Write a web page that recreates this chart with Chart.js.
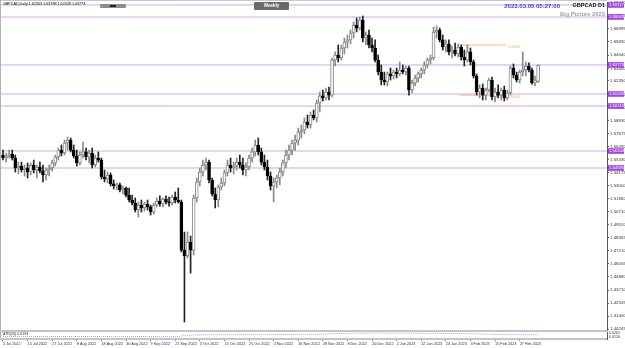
<!DOCTYPE html>
<html>
<head>
<meta charset="utf-8">
<script src="https://cdn.jsdelivr.net/npm/chart.js@4.4.0/dist/chart.umd.min.js"></script>
<style>
  body { margin: 0; background: #fff; }
  #wrap { position: relative; width: 625px; height: 348px; overflow: hidden; font-family: "Liberation Sans", sans-serif; }
  canvas { position: absolute; left: 0; }
  .txt { position: absolute; white-space: nowrap; line-height: 1; }
  .bar { position: absolute; }
</style>
</head>
<body>
<div id="wrap">
  <canvas id="priceChart" width="625" height="331" style="top:0"></canvas>
  <canvas id="atrChart" width="625" height="17" style="top:331px"></canvas>

  <div class="bar" style="left:0;top:0;width:607px;height:1px;background:#c8c8c8"></div>
  <div class="bar" style="left:0;top:0;width:1px;height:339px;background:#b0b0b0"></div>
  <div class="bar" style="left:0;top:330px;width:607px;height:2px;background:#c4c4c4"></div>
  <div class="bar" style="left:0;top:338px;width:607px;height:2px;background:#c4c4c4"></div>

  <div class="txt" style="left:3px;top:3px;font-size:3.7px;color:#000">GBPCAD,Daily  1.62303 1.63788 1.62209 1.63773</div>
  <div class="bar" style="left:100px;top:4px;width:26px;height:4px;background:#8c8c8c;border-radius:1px"></div>
  <div class="bar" style="left:110px;top:5px;width:6px;height:2px;background:#222"></div>
  <div class="bar" style="left:254px;top:2px;width:35px;height:8px;background:#6a6a6a;border-radius:1px"></div>
  <div class="txt" style="left:254px;top:3.8px;width:35px;text-align:center;font-size:4.5px;font-weight:bold;color:#fff">Weekly</div>
  <div class="txt" style="right:65px;top:3.2px;font-size:6px;font-weight:bold;color:#2e3cff">2023.03.05 05:27:00</div>
  <div class="txt" style="right:20px;top:3.4px;font-size:5.5px;font-weight:bold;color:#111">GBPCAD D1</div>
  <div class="txt" style="right:20px;top:12.2px;font-size:5.8px;font-weight:bold;color:#a0a0a0">Big Picture 2023</div>
  <div class="txt" style="left:3px;top:333px;font-size:3.6px;color:#222">ATR(20) 0.0193</div>
</div>

<script>
// daily GBPCAD bars, 5 Jul 2022 -> 3 Mar 2023
const open = [1.5575,1.5548,1.5566,1.5584,1.5548,1.5459,1.5477,1.5441,1.5459,1.5423,
  1.5486,1.5441,1.5468,1.5432,1.5397,1.5441,1.5459,1.5504,1.5557,1.5619,
  1.5593,1.5682,1.5708,1.5619,1.5566,1.5504,1.5575,1.5602,1.5557,1.5593,
  1.5486,1.5548,1.5530,1.5379,1.5361,1.5397,1.5317,1.5299,1.5308,1.5263,
  1.5281,1.5218,1.5174,1.5147,1.5085,1.5129,1.5103,1.5138,1.5112,1.5067,
  1.5129,1.5165,1.5138,1.5183,1.5156,1.5147,1.5201,1.5174,1.5156,1.4728,
  1.4675,1.4800,1.4728,1.5192,1.5334,1.5423,1.5486,1.5512,1.5352,1.5227,
  1.5174,1.5290,1.5325,1.5415,1.5486,1.5459,1.5477,1.5512,1.5486,1.5441,
  1.5468,1.5548,1.5602,1.5664,1.5602,1.5512,1.5468,1.5388,1.5299,1.5334,
  1.5370,1.5423,1.5504,1.5575,1.5619,1.5682,1.5708,1.5780,1.5798,1.5869,
  1.5842,1.5931,1.5905,1.6038,1.6101,1.6083,1.6136,1.6109,1.6421,1.6466,
  1.6439,1.6528,1.6582,1.6600,1.6662,1.6733,1.6706,1.6778,1.6617,1.6644,
  1.6555,1.6528,1.6421,1.6314,1.6243,1.6225,1.6297,1.6279,1.6314,1.6297,
  1.6332,1.6314,1.6350,1.6154,1.6216,1.6261,1.6297,1.6332,1.6377,1.6421,
  1.6439,1.6671,1.6689,1.6600,1.6537,1.6564,1.6493,1.6510,1.6475,1.6537,
  1.6448,1.6421,1.6493,1.6404,1.6279,1.6136,1.6172,1.6109,1.6154,1.6243,
  1.6092,1.6136,1.6109,1.6154,1.6083,1.6127,1.6350,1.6288,1.6243,1.6314,
  1.6332,1.6368,1.6332,1.6216,1.6230];
const high = [1.5619,1.5593,1.5619,1.5619,1.5575,1.5512,1.5512,1.5486,1.5504,1.5504,
  1.5530,1.5486,1.5512,1.5486,1.5459,1.5486,1.5530,1.5575,1.5637,1.5664,
  1.5708,1.5735,1.5726,1.5664,1.5619,1.5602,1.5691,1.5637,1.5619,1.5637,
  1.5575,1.5602,1.5548,1.5441,1.5423,1.5415,1.5352,1.5325,1.5325,1.5299,
  1.5290,1.5281,1.5218,1.5192,1.5156,1.5174,1.5156,1.5174,1.5129,1.5147,
  1.5192,1.5210,1.5192,1.5210,1.5201,1.5218,1.5245,1.5281,1.5174,1.4889,
  1.4889,1.4853,1.5218,1.5370,1.5459,1.5530,1.5548,1.5530,1.5370,1.5281,
  1.5308,1.5370,1.5441,1.5530,1.5548,1.5512,1.5548,1.5575,1.5548,1.5504,
  1.5575,1.5637,1.5708,1.5726,1.5637,1.5575,1.5530,1.5423,1.5370,1.5397,
  1.5459,1.5530,1.5619,1.5664,1.5708,1.5753,1.5815,1.5842,1.5905,1.5931,
  1.5958,1.5976,1.6065,1.6136,1.6154,1.6172,1.6181,1.6439,1.6493,1.6555,
  1.6555,1.6617,1.6644,1.6689,1.6760,1.6796,1.6804,1.6813,1.6671,1.6689,
  1.6617,1.6600,1.6466,1.6377,1.6314,1.6314,1.6350,1.6332,1.6350,1.6404,
  1.6377,1.6368,1.6368,1.6243,1.6288,1.6314,1.6350,1.6404,1.6439,1.6466,
  1.6715,1.6724,1.6706,1.6644,1.6600,1.6600,1.6546,1.6573,1.6564,1.6555,
  1.6510,1.6555,1.6528,1.6421,1.6297,1.6199,1.6207,1.6172,1.6261,1.6270,
  1.6172,1.6199,1.6172,1.6190,1.6154,1.6368,1.6386,1.6314,1.6332,1.6493,
  1.6404,1.6395,1.6350,1.6279,1.6379];
const low = [1.5530,1.5512,1.5548,1.5530,1.5423,1.5406,1.5423,1.5388,1.5370,1.5397,
  1.5415,1.5370,1.5415,1.5334,1.5352,1.5388,1.5432,1.5477,1.5530,1.5566,
  1.5575,1.5619,1.5602,1.5548,1.5477,1.5486,1.5548,1.5530,1.5504,1.5459,
  1.5468,1.5512,1.5361,1.5334,1.5325,1.5299,1.5272,1.5263,1.5245,1.5227,
  1.5201,1.5156,1.5129,1.5067,1.5022,1.5067,1.5076,1.5085,1.5040,1.5049,
  1.5112,1.5120,1.5112,1.5138,1.5120,1.5129,1.5147,1.5147,1.4711,1.4087,
  1.4657,1.4523,1.4684,1.5156,1.5299,1.5388,1.5441,1.5325,1.5210,1.5103,
  1.5112,1.5263,1.5299,1.5388,1.5423,1.5406,1.5441,1.5459,1.5397,1.5388,
  1.5441,1.5512,1.5566,1.5575,1.5486,1.5441,1.5352,1.5263,1.5156,1.5281,
  1.5308,1.5388,1.5459,1.5530,1.5575,1.5619,1.5664,1.5726,1.5762,1.5815,
  1.5815,1.5887,1.5869,1.5958,1.6056,1.6065,1.6065,1.6092,1.6368,1.6404,
  1.6421,1.6475,1.6528,1.6564,1.6617,1.6671,1.6689,1.6582,1.6555,1.6528,
  1.6493,1.6404,1.6288,1.6199,1.6199,1.6190,1.6243,1.6252,1.6261,1.6279,
  1.6297,1.6288,1.6109,1.6127,1.6190,1.6225,1.6261,1.6297,1.6350,1.6386,
  1.6421,1.6617,1.6582,1.6510,1.6493,1.6466,1.6439,1.6457,1.6448,1.6421,
  1.6368,1.6404,1.6377,1.6261,1.6109,1.6083,1.6065,1.6065,1.6136,1.6065,
  1.6047,1.6083,1.6065,1.6056,1.6065,1.6109,1.6261,1.6225,1.6216,1.6279,
  1.6279,1.6314,1.6207,1.6190,1.6221];
const close = [1.5548,1.5566,1.5584,1.5548,1.5459,1.5477,1.5441,1.5459,1.5423,1.5486,
  1.5441,1.5468,1.5432,1.5397,1.5441,1.5459,1.5504,1.5557,1.5619,1.5593,
  1.5682,1.5708,1.5619,1.5566,1.5504,1.5575,1.5602,1.5557,1.5593,1.5486,
  1.5548,1.5530,1.5379,1.5361,1.5397,1.5317,1.5299,1.5308,1.5263,1.5281,
  1.5218,1.5174,1.5147,1.5085,1.5129,1.5103,1.5138,1.5112,1.5067,1.5129,
  1.5165,1.5138,1.5183,1.5156,1.5147,1.5201,1.5174,1.5156,1.4728,1.4675,
  1.4800,1.4728,1.5192,1.5334,1.5423,1.5486,1.5512,1.5352,1.5227,1.5174,
  1.5290,1.5325,1.5415,1.5486,1.5459,1.5477,1.5512,1.5486,1.5441,1.5468,
  1.5548,1.5602,1.5664,1.5602,1.5512,1.5468,1.5388,1.5299,1.5334,1.5370,
  1.5423,1.5504,1.5575,1.5619,1.5682,1.5708,1.5780,1.5798,1.5869,1.5842,
  1.5931,1.5905,1.6038,1.6101,1.6083,1.6136,1.6109,1.6421,1.6466,1.6439,
  1.6528,1.6582,1.6600,1.6662,1.6733,1.6706,1.6778,1.6617,1.6644,1.6555,
  1.6528,1.6421,1.6314,1.6243,1.6225,1.6297,1.6279,1.6314,1.6297,1.6332,
  1.6314,1.6350,1.6154,1.6216,1.6261,1.6297,1.6332,1.6377,1.6421,1.6439,
  1.6671,1.6689,1.6600,1.6537,1.6564,1.6493,1.6510,1.6475,1.6537,1.6448,
  1.6421,1.6493,1.6404,1.6279,1.6136,1.6172,1.6109,1.6154,1.6243,1.6092,
  1.6136,1.6109,1.6154,1.6083,1.6127,1.6350,1.6288,1.6243,1.6314,1.6332,
  1.6368,1.6332,1.6216,1.6243,1.6377];

// ATR(20) per bar
const atr = [0.0128,0.0127,0.0127,0.0126,0.0128,0.0128,0.0127,0.0127,0.0128,0.0129,
  0.0128,0.0128,0.0127,0.0128,0.0127,0.0126,0.0126,0.0127,0.0127,0.0126,
  0.0127,0.0126,0.0126,0.0125,0.0126,0.0125,0.0126,0.0125,0.0125,0.0126,
  0.0124,0.0124,0.0126,0.0125,0.0124,0.0124,0.0123,0.0122,0.0122,0.0121,
  0.0122,0.0122,0.0121,0.0123,0.0124,0.0123,0.0122,0.0122,0.0123,0.0123,
  0.0122,0.0122,0.0121,0.0121,0.0120,0.0121,0.0121,0.0122,0.0140,0.0170,
  0.0172,0.0178,0.0185,0.0187,0.0188,0.0190,0.0190,0.0192,0.0193,0.0195,
  0.0196,0.0196,0.0195,0.0196,0.0196,0.0195,0.0196,0.0196,0.0197,0.0197,
  0.0198,0.0198,0.0199,0.0199,0.0200,0.0199,0.0200,0.0200,0.0201,0.0202,
  0.0203,0.0204,0.0205,0.0205,0.0206,0.0207,0.0208,0.0208,0.0209,0.0210,
  0.0210,0.0211,0.0212,0.0213,0.0214,0.0218,0.0222,0.0232,0.0236,0.0240,
  0.0243,0.0245,0.0247,0.0249,0.0251,0.0252,0.0253,0.0256,0.0256,0.0257,
  0.0257,0.0258,0.0259,0.0259,0.0258,0.0257,0.0256,0.0255,0.0254,0.0254,
  0.0253,0.0252,0.0253,0.0252,0.0251,0.0250,0.0249,0.0248,0.0247,0.0246,
  0.0248,0.0247,0.0246,0.0246,0.0245,0.0244,0.0243,0.0242,0.0241,0.0240,
  0.0238,0.0236,0.0234,0.0231,0.0228,0.0224,0.0220,0.0216,0.0212,0.0208,
  0.0205,0.0203,0.0201,0.0199,0.0199,0.0200,0.0198,0.0197,0.0196,0.0196,
  0.0195,0.0194,0.0194,0.0193,0.0193];

const xTickLabels = ["5 Jul 2022","15 Jul 2022","27 Jul 2022","8 Aug 2022","18 Aug 2022","30 Aug 2022",
  "9 Sep 2022","21 Sep 2022","3 Oct 2022","13 Oct 2022","25 Oct 2022","4 Nov 2022","16 Nov 2022",
  "28 Nov 2022","8 Dec 2022","20 Dec 2022","2 Jan 2023","12 Jan 2023","24 Jan 2023","3 Feb 2023",
  "15 Feb 2023","27 Feb 2023"];
const barsPerLabel = 8;

const yTicks = [1.40245,1.41400,1.42555,1.43710,1.44880,1.46055,1.47210,1.48365,1.49520,1.50710,
  1.51860,1.53000,1.54175,1.55330,1.56490,1.57675,1.58830,1.59990,1.61150,1.62350,
  1.63460,1.64640,1.65830,1.66995,1.68175,1.69340];

// horizontal levels drawn on the chart
const levels = [1.69117, 1.68043, 1.63773, 1.61183, 1.60113, 1.56104, 1.54590];
const orangeLevels = [1.6555, 1.6109];
const orangeFrom = 148.4, orangeTo = 163.5;

const atrTicks = [0.0261, 0.0120];

const xMin = -0.65, xMax = 196.4;
const yMin = 1.40156, yMax = 1.69381;
const atrMin = 0.0030, atrMax = 0.0300;

const FONT = "Liberation Sans";
const idx = open.map((_, i) => i);
const isUp = i => close[i] >= open[i];

const levelLabels = {
  id: "levelLabels",
  afterDraw(chart) {
    const ctx = chart.ctx, ys = chart.scales.y, xs = chart.scales.x;
    ctx.save();
    ctx.textBaseline = "middle";
    ctx.font = "4.2px '" + FONT + "'";
    levels.forEach(v => {
      const py = ys.getPixelForValue(v);
      ctx.fillStyle = "#a445e0";
      ctx.fillRect(ys.left + 1, py - 2.8, 16, 5.6);
      ctx.fillStyle = "#fff";
      ctx.fillText(v.toFixed(5), ys.left + 2, py + 0.2);
    });
    ctx.fillStyle = "#f0a860";
    ctx.font = "4px '" + FONT + "'";
    orangeLevels.forEach(v => {
      ctx.fillText(v.toFixed(4), xs.getPixelForValue(orangeTo) + 2, ys.getPixelForValue(v) + 1.5);
    });
    ctx.restore();
  }
};

const levelSets = levels.map(v => ({
  type: "line",
  data: [{ x: xMin, y: v }, { x: xMax, y: v }],
  borderColor: "#d2a6ec", borderWidth: 1, pointRadius: 0, order: 5
}));
const orangeSets = orangeLevels.map(v => ({
  type: "line",
  data: [{ x: orangeFrom, y: v }, { x: orangeTo, y: v }],
  borderColor: "#f7b77a", borderWidth: 1, pointRadius: 0, order: 4
}));

new Chart(document.getElementById("priceChart"), {
  type: "bar",
  data: {
    datasets: [
      {
        data: idx.map(i => ({ x: i, y: [low[i], high[i]] })),
        backgroundColor: idx.map(i => isUp(i) ? "#8a8a8a" : "#222"),
        barThickness: 1, grouped: false, order: 3
      },
      {
        data: idx.map(i => ({ x: i, y: [open[i], close[i]] })),
        backgroundColor: idx.map(i => isUp(i) ? "#fff" : "#000"),
        borderColor: idx.map(i => isUp(i) ? "#858585" : "#000"),
        borderWidth: 1, borderSkipped: false, barThickness: 3, minBarLength: 1,
        grouped: false, order: 2
      },
      ...levelSets,
      ...orangeSets
    ]
  },
  options: {
    responsive: false,
    animation: false,
    layout: { padding: { left: 1, top: 2, right: 0, bottom: 1 } },
    plugins: { legend: { display: false }, tooltip: { enabled: false } },
    scales: {
      x: { type: "linear", min: xMin, max: xMax, offset: false, display: false },
      y: {
        position: "right", min: yMin, max: yMax,
        afterFit(s) { s.width = 18; s.paddingTop = 0; s.paddingBottom = 0; },
        afterBuildTicks(s) { s.ticks = yTicks.map(v => ({ value: v })); },
        ticks: {
          autoSkip: false, padding: 1, color: "#333",
          font: { family: FONT, size: 4.4 },
          callback: v => v.toFixed(5)
        },
        grid: { drawOnChartArea: false, tickLength: 2, color: "#666" },
        border: { color: "#555" }
      }
    }
  },
  plugins: [levelLabels]
});

new Chart(document.getElementById("atrChart"), {
  type: "line",
  data: {
    datasets: [{
      data: atr.map((v, i) => ({ x: i, y: v })),
      borderColor: "#78aef5", borderWidth: 1, borderDash: [1, 1],
      pointRadius: 0, tension: 0
    }]
  },
  options: {
    responsive: false,
    animation: false,
    layout: { padding: { left: 1, top: 1, right: 0, bottom: 0 } },
    plugins: { legend: { display: false }, tooltip: { enabled: false } },
    scales: {
      x: {
        type: "linear", min: xMin, max: xMax, offset: false,
        afterFit(s) { s.height = 9; s.paddingLeft = 0; s.paddingRight = 0; },
        afterBuildTicks(s) { s.ticks = xTickLabels.map((_, k) => ({ value: k * barsPerLabel })); },
        ticks: {
          autoSkip: false, maxRotation: 0, align: "start", padding: 1, color: "#333",
          font: { family: FONT, size: 3.8 },
          callback: (v, k) => xTickLabels[k]
        },
        grid: { drawOnChartArea: false, tickLength: 2, color: "#777" },
        border: { display: false }
      },
      y: {
        position: "right", min: atrMin, max: atrMax,
        afterFit(s) { s.width = 18; s.paddingTop = 0; s.paddingBottom = 0; },
        afterBuildTicks(s) { s.ticks = atrTicks.map(v => ({ value: v })); },
        ticks: {
          autoSkip: false, padding: 1, color: "#333",
          font: { family: FONT, size: 3.6 },
          callback: v => v.toFixed(4)
        },
        grid: { drawOnChartArea: false, tickLength: 1, color: "#666" },
        border: { color: "#555" }
      }
    }
  }
});
</script>
</body>
</html>
